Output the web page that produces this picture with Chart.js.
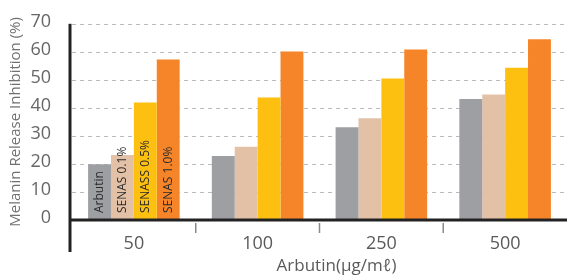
<!DOCTYPE html>
<html>
<head>
    <title>Melanin Release Inhibition</title>
    <script src="https://cdn.jsdelivr.net/npm/chart.js"></script>
    <style>
        html, body { margin: 0; padding: 0; background: #fff; }
        #wrap { width: 567px; height: 279px; }
    </style>
</head>
<body>
    <div id="wrap"><canvas id="myChart"></canvas></div>

    <script>
        var categories = ["50", "100", "250", "500"];
        var seriesNames = ["Arbutin", "SENAS 0.1%", "SENASS 0.5%", "SENAS 1.0%"];
        var arbutin = [19.9, 22.8, 33.1, 43.2];
        var senas01 = [23.2, 26.1, 36.3, 44.8];
        var senas05 = [41.9, 43.7, 50.5, 54.3];
        var senas10 = [57.3, 60.1, 60.8, 64.5];
        var yTicks = [0, 10, 20, 30, 40, 50, 60, 70];
        var xTitle = "Arbutin(μg/mℓ)";

        var colors = ["#9e9fa3", "#e3c1a7", "#fdc010", "#f68428"];
        var fontFamily = "'Open Sans', sans-serif";

        var datasets = [arbutin, senas01, senas05, senas10].map(function (values, i) {
            return {
                label: seriesNames[i],
                data: values,
                backgroundColor: colors[i],
                borderWidth: 0,
                categoryPercentage: 0.74,
                barPercentage: 1.0
            };
        });

        // dashed grid behind the bars
        var dashedGrid = {
            id: "dashedGrid",
            beforeDatasetsDraw: function (chart) {
                var ctx = chart.ctx;
                var area = chart.chartArea;
                var y = chart.scales.y;
                ctx.save();
                ctx.strokeStyle = "#bcbcbc";
                ctx.lineWidth = 1;
                ctx.setLineDash([4, 4]);
                yTicks.forEach(function (v) {
                    if (v === 0) return;
                    var py = Math.round(y.getPixelForValue(v)) + 0.5;
                    ctx.beginPath();
                    ctx.moveTo(area.left, py);
                    ctx.lineTo(chart.width, py);
                    ctx.stroke();
                });
                ctx.restore();
            }
        };

        // axis lines, category tick marks, x title and the labels inside the first group
        var decorations = {
            id: "decorations",
            afterDatasetsDraw: function (chart) {
                var ctx = chart.ctx;
                var area = chart.chartArea;
                var x = chart.scales.x;
                var y = chart.scales.y;
                var zero = y.getPixelForValue(0);
                var step = x.getPixelForValue(1) - x.getPixelForValue(0);
                var axisX = area.left - 2;

                ctx.save();
                // category separators
                ctx.strokeStyle = "#8a8a8a";
                ctx.lineWidth = 1.5;
                for (var i = 1; i < categories.length; i++) {
                    var px = x.getPixelForValue(i) - step / 2;
                    ctx.beginPath();
                    ctx.moveTo(px, zero + 3);
                    ctx.lineTo(px, zero + 13);
                    ctx.stroke();
                }
                // x axis
                ctx.strokeStyle = "#222";
                ctx.lineWidth = 3;
                ctx.beginPath();
                ctx.moveTo(axisX, zero);
                ctx.lineTo(chart.width, zero);
                ctx.stroke();
                // y axis, running below the x axis
                ctx.beginPath();
                ctx.moveTo(axisX, area.top);
                ctx.lineTo(axisX, zero + 32);
                ctx.stroke();

                // x axis title
                ctx.fillStyle = "#5a5a5a";
                ctx.font = "17px " + fontFamily;
                ctx.textAlign = "center";
                ctx.textBaseline = "middle";
                ctx.fillText(xTitle, (area.left + area.right) / 2 + 17, zero + 46);

                // series names inside the bars of the first group
                ctx.fillStyle = "#2a2a2a";
                ctx.font = "12px " + fontFamily;
                ctx.textAlign = "left";
                chart.data.datasets.forEach(function (ds, di) {
                    var bar = chart.getDatasetMeta(di).data[0];
                    ctx.save();
                    ctx.translate(bar.x, bar.base - 7);
                    ctx.rotate(-Math.PI / 2);
                    ctx.fillText(ds.label, 0, 0);
                    ctx.restore();
                });
                ctx.restore();
            }
        };

        var ctx = document.getElementById("myChart").getContext("2d");
        new Chart(ctx, {
            type: "bar",
            data: {
                labels: categories,
                datasets: datasets
            },
            options: {
                responsive: true,
                maintainAspectRatio: false,
                animation: false,
                layout: {
                    padding: { left: 7, right: -2, top: 21, bottom: 0 }
                },
                plugins: {
                    legend: { display: false },
                    tooltip: { enabled: false }
                },
                scales: {
                    x: {
                        grid: { display: false },
                        border: { display: false },
                        ticks: {
                            color: "#5a5a5a",
                            font: { family: fontFamily, size: 18 },
                            padding: 5
                        },
                        afterFit: function (scale) { scale.height = 59; }
                    },
                    y: {
                        min: 0,
                        max: 70,
                        afterBuildTicks: function (scale) {
                            scale.ticks = yTicks.map(function (v) { return { value: v }; });
                        },
                        grid: { display: false },
                        border: { display: false },
                        ticks: {
                            color: "#666",
                            font: { family: fontFamily, size: 18 },
                            padding: 13,
                            labelOffset: -2
                        },
                        title: {
                            display: true,
                            text: "Melanin Release Inhibition (%)",
                            color: "#707070",
                            font: { family: fontFamily, size: 15 },
                            padding: { top: 0, bottom: 0 }
                        },
                        afterFit: function (scale) { scale.width = 65; }
                    }
                }
            },
            plugins: [dashedGrid, decorations]
        });
    </script>
</body>
</html>
